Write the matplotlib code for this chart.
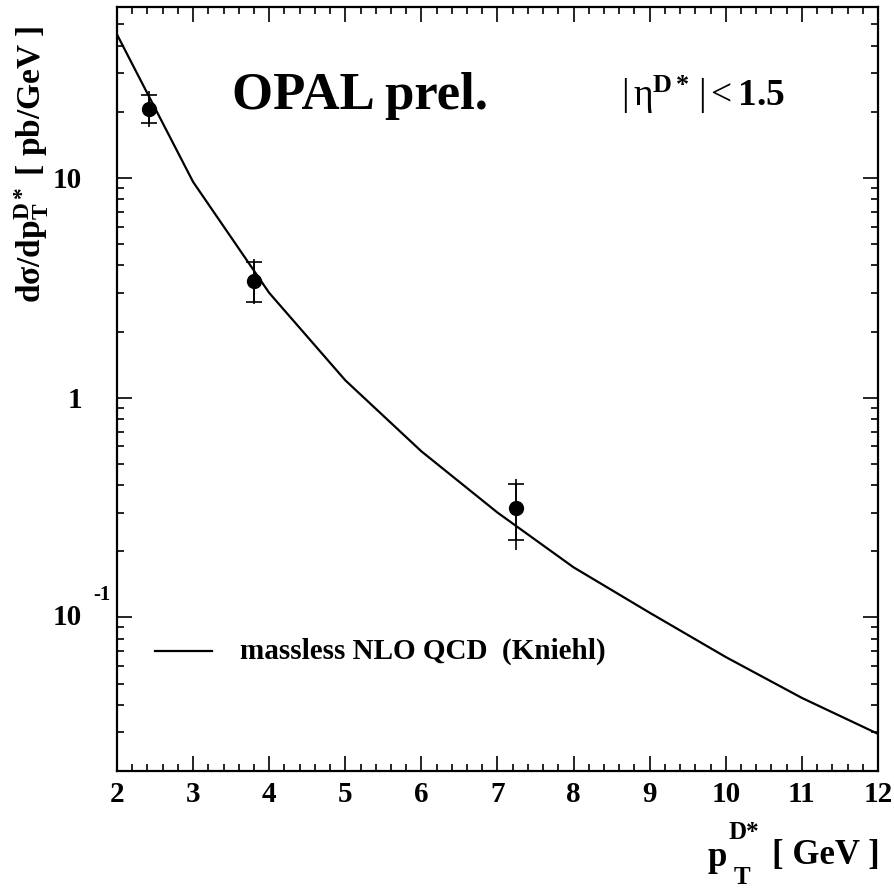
import matplotlib
matplotlib.use("Agg")
import matplotlib.pyplot as plt
from matplotlib.ticker import MultipleLocator, LogLocator, NullFormatter, FixedLocator, FixedFormatter

plt.rcParams['font.family'] = ['Liberation Serif', 'DejaVu Serif']
plt.rcParams['mathtext.fontset'] = 'custom'
plt.rcParams['mathtext.rm'] = 'Liberation Serif'
plt.rcParams['mathtext.it'] = 'Liberation Serif:italic'
plt.rcParams['mathtext.bf'] = 'Liberation Serif:bold'

# NLO curve (massless NLO QCD, Kniehl)
nlo_pt = [2, 3, 4, 5, 6, 7, 8, 9, 10, 11, 12]
nlo_xs = [45, 9.6, 3.0, 1.2, 0.57, 0.30, 0.169, 0.105, 0.066, 0.043, 0.0295]

# OPAL data points
data_pt = [2.42, 3.80, 7.24]
data_xs = [20.7, 3.40, 0.315]
stat_up = [23.9, 4.14, 0.405]
stat_lo = [17.8, 2.74, 0.225]
tot_up = [25.0, 4.27, 0.427]
tot_lo = [17.1, 2.66, 0.202]

fig = plt.figure(figsize=(8.95, 8.88), dpi=100)
ax = fig.add_axes([0.1307, 0.1318, 0.8503, 0.8603])

ax.plot(nlo_pt, nlo_xs, color='black', lw=1.6)

err_tot = [[v - l for v, l in zip(data_xs, tot_lo)], [u - v for v, u in zip(data_xs, tot_up)]]
err_stat = [[v - l for v, l in zip(data_xs, stat_lo)], [u - v for v, u in zip(data_xs, stat_up)]]
ax.errorbar(data_pt, data_xs, yerr=err_tot, fmt='none', ecolor='black', elinewidth=1.2, capsize=0)
ax.errorbar(data_pt, data_xs, yerr=err_stat, fmt='o', color='black', ms=10,
            elinewidth=1.2, capsize=5.5, capthick=1.2)

ax.set_yscale('log')
ax.set_xlim(2, 12)
ax.set_ylim(0.02, 60)

for s in ax.spines.values():
    s.set_linewidth(1.6)

ax.xaxis.set_major_locator(MultipleLocator(1))
ax.xaxis.set_minor_locator(MultipleLocator(0.2))
ax.yaxis.set_major_locator(FixedLocator([0.1, 1, 10]))
ax.yaxis.set_major_formatter(FixedFormatter(['', '1', '10']))
ax.yaxis.set_minor_locator(LogLocator(base=10, subs=[2, 3, 4, 5, 6, 7, 8, 9]))
ax.yaxis.set_minor_formatter(NullFormatter())

ax.tick_params(which='both', direction='in', top=True, right=True, width=1.2)
ax.tick_params(which='major', length=11)
ax.tick_params(which='minor', length=5)
ax.tick_params(axis='x', pad=7, labelsize=21)
ax.tick_params(axis='y', pad=25, labelsize=21)
for lab in ax.get_xticklabels() + ax.get_yticklabels():
    lab.set_fontweight('bold')

# 10^-1 label drawn ROOT style
ytr = ax.get_yaxis_transform()
ax.text(-0.046, 0.1, '10', transform=ytr, ha='right', va='center',
        fontsize=21, fontweight='bold')
ax.text(-0.0315, 0.127, '-1', transform=ytr, ha='left', va='center',
        fontsize=15, fontweight='bold')

# texts
ax.text(0.151, 0.884, 'OPAL prel.', transform=ax.transAxes, ha='left', va='center',
        fontsize=38, fontweight='bold')
ax.text(0.662, 0.885, r'$|\,\mathrm{\eta}^{\mathbf{D*}}\,| < \mathbf{1.5}$', transform=ax.transAxes,
        ha='left', va='center', fontsize=27)

# legend
ax.plot([2.5, 3.25], [0.07, 0.07], color='black', lw=1.6)
ax.text(3.62, 0.07, 'massless NLO QCD  (Kniehl)', ha='left', va='center',
        fontsize=21, fontweight='bold')

# x axis title, ROOT style p with D* above and T below
fig.text(0.791, 0.034, 'p', ha='left', va='center', fontsize=25, fontweight='bold')
fig.text(0.814, 0.063, 'D*', ha='left', va='center', fontsize=18, fontweight='bold')
fig.text(0.820, 0.012, 'T', ha='left', va='center', fontsize=18, fontweight='bold')
fig.text(0.983, 0.037, '[ GeV ]', ha='right', va='center', fontsize=25, fontweight='bold')

fig.text(0.035, 0.815, r'$\mathbf{d\sigma/dp_T^{D*}}$ [ pb/GeV ]', ha='center', va='center',
         rotation=90, fontsize=24, fontweight='bold')

fig.savefig('out.png', dpi=100)
